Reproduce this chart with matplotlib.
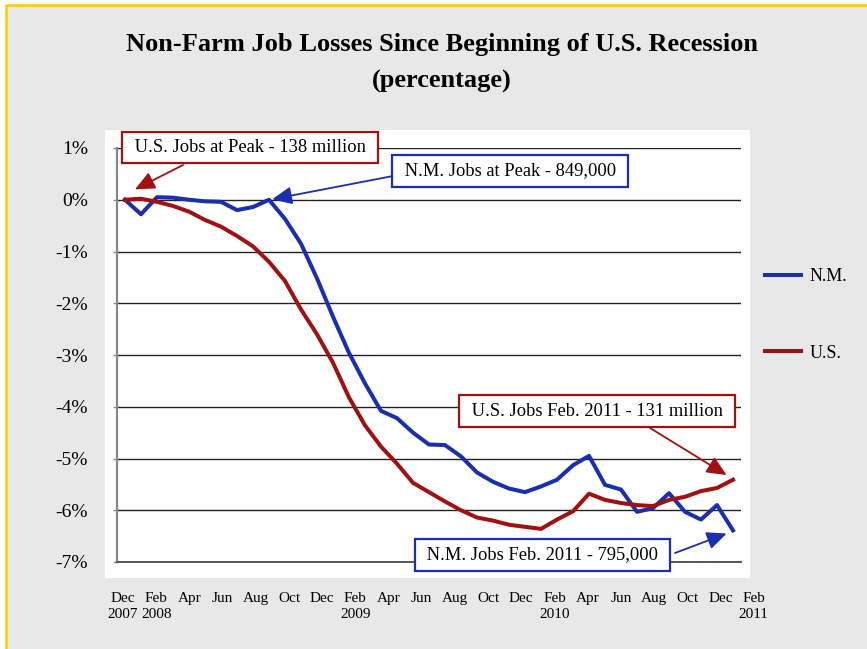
import matplotlib.pyplot as plt
from matplotlib.patches import Rectangle
from matplotlib.lines import Line2D
import numpy as np

# Percent change in non-farm jobs, monthly from Dec 2007 to Feb 2011
nm_change = [0.00, -0.28, 0.05, 0.04, 0.00, -0.03, -0.04, -0.20, -0.14, 0.00,
             -0.37, -0.85, -1.52, -2.26, -2.96, -3.55, -4.08, -4.22, -4.50, -4.73,
             -4.74, -4.96, -5.27, -5.45, -5.58, -5.65, -5.54, -5.41, -5.13, -4.95,
             -5.51, -5.60, -6.03, -5.96, -5.67, -6.03, -6.18, -5.90, -6.39]
us_change = [0.00, 0.02, -0.04, -0.12, -0.23, -0.39, -0.52, -0.70, -0.90, -1.20,
             -1.57, -2.12, -2.60, -3.15, -3.82, -4.36, -4.77, -5.10, -5.47, -5.65,
             -5.83, -6.00, -6.14, -6.20, -6.28, -6.32, -6.36, -6.18, -6.02, -5.68,
             -5.80, -5.86, -5.90, -5.92, -5.80, -5.74, -5.63, -5.57, -5.41]

month_labels = ['Dec\n2007', 'Feb\n2008', 'Apr', 'Jun', 'Aug', 'Oct',
                'Dec', 'Feb\n2009', 'Apr', 'Jun', 'Aug', 'Oct',
                'Dec', 'Feb\n2010', 'Apr', 'Jun', 'Aug', 'Oct',
                'Dec', 'Feb\n2011']
y_ticks = [1, 0, -1, -2, -3, -4, -5, -6, -7]
y_labels = ['1%', '0%', '-1%', '-2%', '-3%', '-4%', '-5%', '-6%', '-7%']

BLUE = '#1a2fb0'
RED = '#a01212'
W, H = 867, 649

plt.rcParams['font.family'] = ['Liberation Serif', 'DejaVu Serif']

fig = plt.figure(figsize=(W / 100, H / 100), dpi=100, facecolor='white')

# gray page with a yellow edge on the left and top
fig.patches.append(Rectangle((6 / W, 0), 1, 1 - 5 / H, transform=fig.transFigure,
                             facecolor='#e8e8e8', edgecolor='none', zorder=-3))
fig.lines.append(Line2D([6 / W, 6 / W, 1], [0, 1 - 5 / H, 1 - 5 / H],
                        transform=fig.transFigure, color='#ffcc00', lw=1.8, zorder=-2))
# white plot panel
fig.patches.append(Rectangle((105 / W, (H - 578) / H), 645 / W, 448 / H,
                             transform=fig.transFigure, facecolor='white',
                             edgecolor='none', zorder=-1))

fig.text(442 / W, 1 - 45 / H, 'Non-Farm Job Losses Since Beginning of U.S. Recession',
         ha='center', va='center', fontsize=19, fontweight='bold')
fig.text(442 / W, 1 - 81 / H, '(percentage)',
         ha='center', va='center', fontsize=19, fontweight='bold')

ax = fig.add_axes([117 / W, (H - 562) / H, 624 / W, 414 / H])
ax.set_facecolor('none')

x = np.arange(len(nm_change))
ax.plot(x, nm_change, color=BLUE, lw=2.9, label='N.M.', zorder=3)
ax.plot(x, us_change, color=RED, lw=2.9, label='U.S.', zorder=3)

for v in y_ticks:
    ax.axhline(v, color='#222222', lw=1.0, zorder=1)

ax.set_yticks(y_ticks)
ax.set_yticklabels(y_labels, fontsize=14)
ax.tick_params(axis='y', direction='out', length=3, width=1, color='#888888', pad=18)

# month labels sit below the panel and run a little past the last point
ax.set_xticks([])
label_pos = np.arange(len(month_labels)) * 2 * 1.037 - 0.12
for pos, lab in zip(label_pos, month_labels):
    ax.text(pos, -0.072, lab, transform=ax.get_xaxis_transform(), ha='center', va='top',
            fontsize=11, linespacing=1.3, clip_on=False)

ax.set_xlim(-0.5, len(x) - 0.5)
ax.set_ylim(-7, 1)

for side in ['top', 'right']:
    ax.spines[side].set_visible(False)
ax.spines['left'].set_color('#888888')
ax.spines['left'].set_linewidth(1.6)
ax.spines['bottom'].set_color('#555555')
ax.spines['bottom'].set_linewidth(1.4)

# callout boxes and arrows
def to_axes(px, py):
    return ((px - 117) / 624, (562 - py) / 414)

callouts = [
    (' U.S. Jobs at Peak - 138 million ', RED, (250, 147.5), (183, 165), (0.62, 0.20)),
    (' N.M. Jobs at Peak - 849,000 ', BLUE, (510, 171), (393, 176), (9.2, 0.01)),
    (' U.S. Jobs Feb. 2011 - 131 million ', RED, (597, 411), (650, 428), (37.6, -5.32)),
    (' N.M. Jobs Feb. 2011 - 795,000 ', BLUE, (542.5, 555), (675, 553), (37.6, -6.45)),
]
for text, col, center, start, tip in callouts:
    ax.annotate('', xy=tip, xycoords='data', xytext=to_axes(*start),
                textcoords='axes fraction', annotation_clip=False,
                arrowprops=dict(arrowstyle='-|>,head_length=1.0,head_width=0.45',
                                mutation_scale=12, color=col, lw=1.3,
                                shrinkA=0, shrinkB=0), zorder=5)
    ax.text(*to_axes(*center), text, transform=ax.transAxes, ha='center', va='center',
            fontsize=13.3, zorder=6, clip_on=False,
            bbox=dict(boxstyle='square,pad=0.4', facecolor='white', edgecolor=col, linewidth=1.6))

fig.legend(loc='upper left', bbox_to_anchor=(765 / W, 1 - 268 / H), frameon=False,
           fontsize=13, handlelength=2.0, handletextpad=0.45, labelspacing=3.3,
           borderpad=0, borderaxespad=0)

fig.savefig('out.png', dpi=100, facecolor=fig.get_facecolor())
